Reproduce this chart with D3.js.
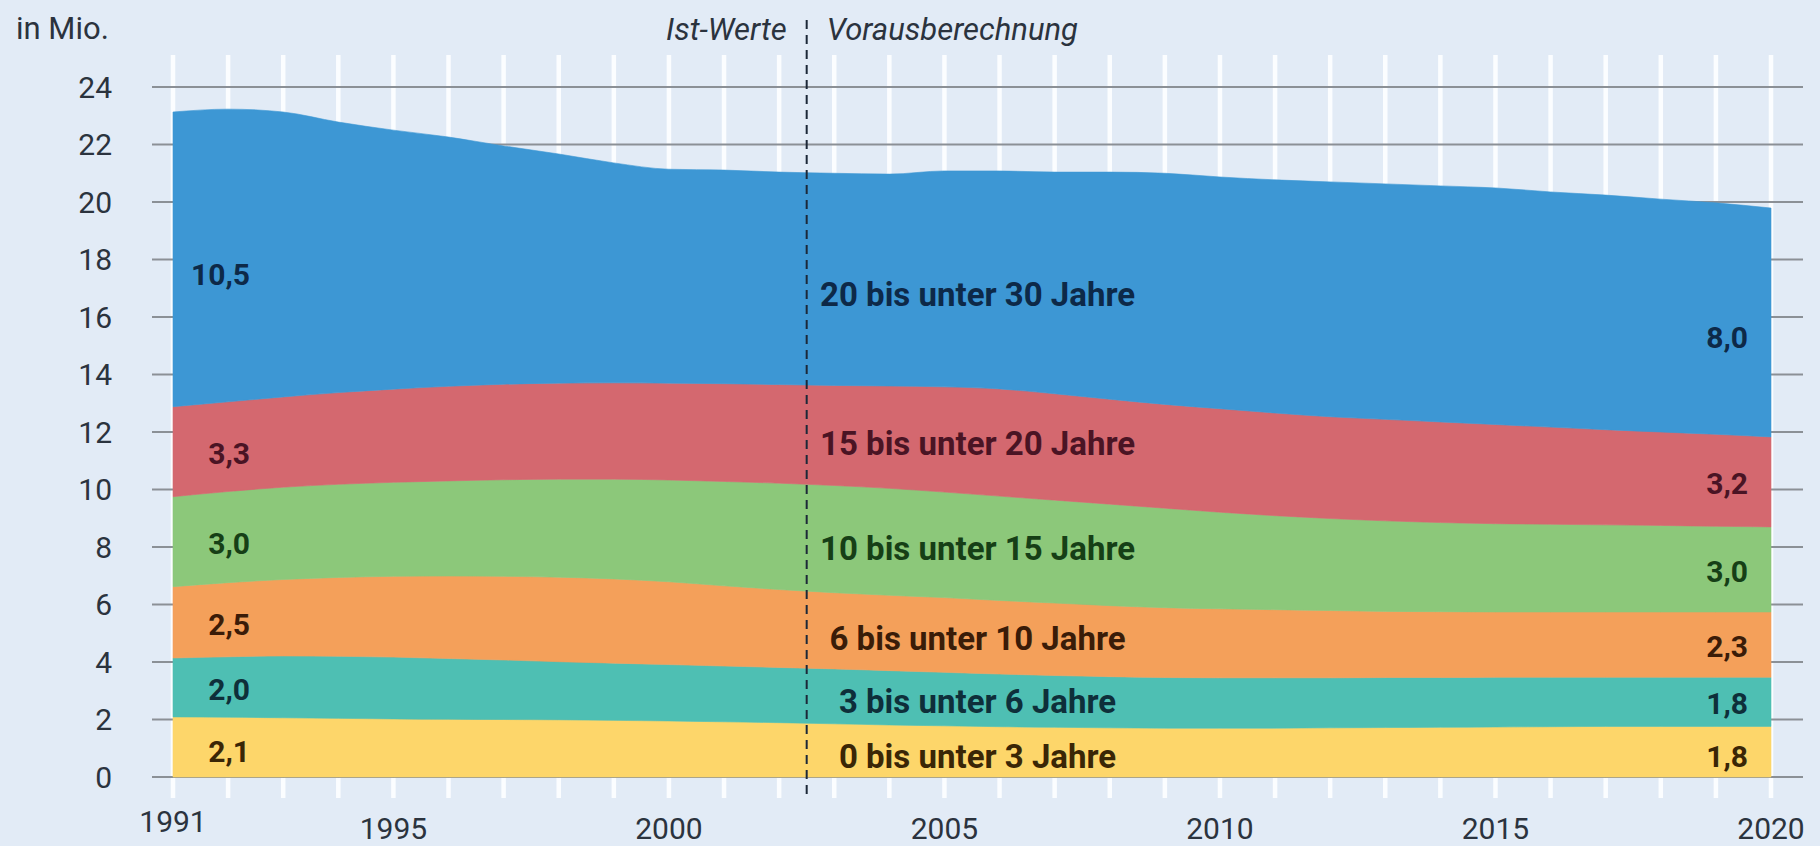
<!DOCTYPE html>
<html>
<head>
<meta charset="utf-8">
<script src="https://cdn.jsdelivr.net/npm/d3@7"></script>
<style>
  html, body { margin: 0; padding: 0; background: #e2ebf6; }
  svg { display: block; font-family: Roboto, "Open Sans", sans-serif; }
</style>
</head>
<body>
<svg id="chart" width="1820" height="846"></svg>
<script>
// Kinder und junge Erwachsene nach Altersgruppen, in Mio.
var years = d3.range(1991, 2021);

var age0to3 = [2.09, 2.08, 2.06, 2.04, 2.02, 2.01, 2.00, 1.99, 1.97, 1.95, 1.92, 1.89, 1.85, 1.81, 1.78,
               1.75, 1.73, 1.71, 1.70, 1.70, 1.70, 1.71, 1.72, 1.73, 1.74, 1.75, 1.76, 1.76, 1.76, 1.76];
var age3to6 = [2.05, 2.10, 2.15, 2.16, 2.15, 2.11, 2.07, 2.02, 1.99, 1.96, 1.94, 1.92, 1.91, 1.89, 1.86,
               1.83, 1.80, 1.78, 1.76, 1.75, 1.75, 1.74, 1.74, 1.73, 1.73, 1.72, 1.71, 1.71, 1.71, 1.71];
var age6to10 = [2.48, 2.58, 2.66, 2.74, 2.81, 2.87, 2.91, 2.94, 2.93, 2.88, 2.79, 2.71, 2.65, 2.62, 2.60,
                2.56, 2.52, 2.47, 2.43, 2.40, 2.37, 2.34, 2.30, 2.29, 2.27, 2.27, 2.27, 2.27, 2.27, 2.27];
var age10to15 = [3.13, 3.17, 3.21, 3.24, 3.27, 3.31, 3.36, 3.41, 3.47, 3.54, 3.63, 3.70, 3.73, 3.72, 3.67,
                 3.63, 3.58, 3.53, 3.46, 3.36, 3.27, 3.20, 3.15, 3.10, 3.07, 3.05, 3.03, 3.01, 2.98, 2.96];
var age15to20 = [3.13, 3.12, 3.14, 3.19, 3.24, 3.29, 3.32, 3.34, 3.35, 3.37, 3.40, 3.43, 3.48, 3.56, 3.66,
                 3.73, 3.70, 3.65, 3.61, 3.60, 3.57, 3.54, 3.53, 3.50, 3.45, 3.38, 3.31, 3.25, 3.20, 3.13];
var age20to30 = [10.25, 10.18, 9.91, 9.41, 9.01, 8.67, 8.29, 7.97, 7.65, 7.44, 7.43, 7.39, 7.38, 7.37, 7.51,
                 7.58, 7.71, 7.90, 8.04, 8.06, 8.11, 8.17, 8.19, 8.21, 8.23, 8.18, 8.16, 8.10, 8.05, 7.96];

var groupNames = ["0 bis unter 3 Jahre", "3 bis unter 6 Jahre", "6 bis unter 10 Jahre",
                  "10 bis unter 15 Jahre", "15 bis unter 20 Jahre", "20 bis unter 30 Jahre"];
var startLabels = ["2,1", "2,0", "2,5", "3,0", "3,3", "10,5"];
var endLabels = ["1,8", "1,8", "2,3", "3,0", "3,2", "8,0"];

var yTicks = d3.range(0, 25, 2);
var xTickYears = [1991, 1995, 2000, 2005, 2010, 2015, 2020];
var forecastStart = 2002.5;

// Colors
var fillColors = ["#fdd66a", "#4ebfb3", "#f4a05a", "#8cc87a", "#d4686f", "#3d97d4"];
var textColors = ["#3a2606", "#0e2f3a", "#3a1c08", "#163f16", "#4a1424", "#0d2948"];
var axisText = "#2b333e";
var gridColor = "#8b9096";

// Build rows for the stack
var series = [age0to3, age3to6, age6to10, age10to15, age15to20, age20to30];
var keys = groupNames;
var rows = years.map(function (yr, i) {
    var row = { year: yr };
    keys.forEach(function (k, j) { row[k] = series[j][i]; });
    return row;
});

var svg = d3.select("#chart");
var width = 1820, height = 846;

var x = d3.scaleLinear().domain([1991, 2020]).range([173, 1771]);
var y = d3.scaleLinear().domain([0, 24]).range([777, 87]);

// background
svg.append("rect").attr("width", width).attr("height", height).attr("fill", "#e2ebf6");

// white year lines
svg.append("g").selectAll("line")
    .data(years)
    .enter().append("line")
    .attr("x1", function (d) { return x(d); })
    .attr("x2", function (d) { return x(d); })
    .attr("y1", 55)
    .attr("y2", y(0) + 21)
    .attr("stroke", "#fbfdff")
    .attr("stroke-width", 4.5);

// horizontal grid lines
svg.append("g").selectAll("line")
    .data(yTicks)
    .enter().append("line")
    .attr("x1", 152)
    .attr("x2", 1803)
    .attr("y1", function (d) { return y(d); })
    .attr("y2", function (d) { return y(d); })
    .attr("stroke", gridColor)
    .attr("stroke-width", 2);

// stacked areas
var stack = d3.stack().keys(keys);
var layers = stack(rows);

var area = d3.area()
    .x(function (d) { return x(d.data.year); })
    .y0(function (d) { return y(d[0]); })
    .y1(function (d) { return y(d[1]); })
    .curve(d3.curveMonotoneX);

svg.append("g").selectAll("path")
    .data(layers)
    .enter().append("path")
    .attr("d", area)
    .attr("fill", function (d, i) { return fillColors[i]; })
    .attr("stroke", function (d, i) { return fillColors[i]; })
    .attr("stroke-width", 0.6);

// divider Ist-Werte / Vorausberechnung
svg.append("line")
    .attr("x1", x(forecastStart)).attr("x2", x(forecastStart))
    .attr("y1", 20).attr("y2", y(0) + 22)
    .attr("stroke", "#1c2838")
    .attr("stroke-width", 2)
    .attr("stroke-dasharray", "9,6");

svg.append("text")
    .attr("x", x(forecastStart) - 20).attr("y", 40)
    .attr("text-anchor", "end")
    .attr("font-style", "italic")
    .attr("font-size", 31)
    .attr("fill", axisText)
    .text("Ist-Werte");

svg.append("text")
    .attr("x", x(forecastStart) + 20).attr("y", 40)
    .attr("font-style", "italic")
    .attr("font-size", 31)
    .attr("fill", axisText)
    .text("Vorausberechnung");

// unit
svg.append("text")
    .attr("x", 16).attr("y", 39)
    .attr("font-size", 31)
    .attr("fill", axisText)
    .text("in Mio.");

// y tick labels
svg.append("g").selectAll("text")
    .data(yTicks)
    .enter().append("text")
    .attr("x", 112)
    .attr("y", function (d) { return y(d); })
    .attr("dy", "0.35em")
    .attr("text-anchor", "end")
    .attr("font-size", 30)
    .attr("fill", axisText)
    .text(function (d) { return d; });

// x tick labels
svg.append("g").selectAll("text")
    .data(xTickYears)
    .enter().append("text")
    .attr("x", function (d) { return x(d); })
    .attr("y", function (d) { return d === 1991 ? 832 : 839; })
    .attr("text-anchor", "middle")
    .attr("font-size", 30)
    .attr("fill", axisText)
    .text(function (d) { return d; });

// labels in the bands
var first = 0, last = years.length - 1;
var labelYear = 2005.6;
function bandMid(layer, idx) {
    return (y(layer[idx][0]) + y(layer[idx][1])) / 2;
}
function shift(i) { return i === 5 ? 15 : (i === 0 ? 5 : 2); }

var labels = svg.append("g").attr("font-weight", "bold");

labels.selectAll(".start")
    .data(layers)
    .enter().append("text")
    .attr("class", "start")
    .attr("x", x(1991) + 77)
    .attr("y", function (d, i) { return bandMid(d, first) + shift(i); })
    .attr("dy", "0.35em")
    .attr("text-anchor", "end")
    .attr("font-size", 30)
    .attr("fill", function (d, i) { return textColors[i]; })
    .text(function (d, i) { return startLabels[i]; });

labels.selectAll(".end")
    .data(layers)
    .enter().append("text")
    .attr("class", "end")
    .attr("x", x(2020) - 23)
    .attr("y", function (d, i) { return bandMid(d, last) + shift(i); })
    .attr("dy", "0.35em")
    .attr("text-anchor", "end")
    .attr("font-size", 30)
    .attr("fill", function (d, i) { return textColors[i]; })
    .text(function (d, i) { return endLabels[i]; });

labels.selectAll(".name")
    .data(layers)
    .enter().append("text")
    .attr("class", "name")
    .attr("x", x(labelYear))
    .attr("y", function (d, i) {
        var a = d[14], b = d[15];
        var mid = (y((a[0] + b[0]) / 2) + y((a[1] + b[1]) / 2)) / 2;
        return mid + shift(i);
    })
    .attr("dy", "0.35em")
    .attr("text-anchor", "middle")
    .attr("font-size", 33)
    .attr("fill", function (d, i) { return textColors[i]; })
    .text(function (d, i) { return groupNames[i]; });
</script>
</body>
</html>
